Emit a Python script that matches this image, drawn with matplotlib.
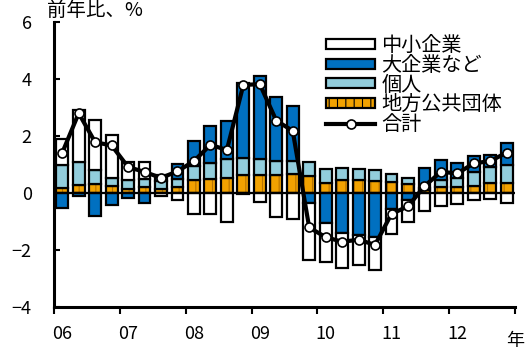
import numpy as np
import matplotlib
matplotlib.use("Agg")
import matplotlib.pyplot as plt
from matplotlib.patches import Patch
from matplotlib.lines import Line2D

plt.rcParams['font.family'] = ['Noto Sans CJK JP', 'DejaVu Sans']
plt.rcParams['hatch.linewidth'] = 0.8

# Quarterly contributions, 2006Q1 - 2012Q4 (percentage points)
years = ['06', '07', '08', '09', '10', '11', '12']
local_gov = [0.19, 0.27, 0.33, 0.23, 0.15, 0.21, 0.14, 0.21, 0.44, 0.50, 0.54, 0.62, 0.62, 0.62,
             0.65, 0.59, 0.36, 0.45, 0.45, 0.43, 0.37, 0.30, 0.12, 0.22, 0.20, 0.26, 0.36, 0.34]
individuals = [0.78, 0.82, 0.47, 0.30, 0.31, 0.29, 0.28, 0.29, 0.49, 0.55, 0.64, 0.62, 0.58, 0.49,
               0.47, 0.50, 0.48, 0.44, 0.38, 0.37, 0.31, 0.22, 0.05, 0.23, 0.31, 0.47, 0.56, 0.64]
large_firms = [-0.51, -0.12, -0.82, -0.41, -0.16, -0.35, 0.22, 0.52, 0.89, 1.29, 1.33, 2.61, 2.91, 2.25,
               1.93, -0.36, -1.06, -1.39, -1.49, -1.56, -0.57, -0.24, 0.70, 0.72, 0.55, 0.57, 0.41, 0.78]
small_firms = [0.93, 1.81, 1.77, 1.52, 0.62, 0.58, -0.12, -0.26, -0.72, -0.72, -1.01, -0.05, -0.31, -0.84,
               -0.91, -1.98, -1.36, -1.25, -1.02, -1.13, -0.86, -0.76, -0.63, -0.45, -0.37, -0.24, -0.22, -0.36]
total = [1.41, 2.80, 1.78, 1.67, 0.91, 0.74, 0.53, 0.76, 1.12, 1.69, 1.51, 3.79, 3.82, 2.54,
         2.18, -1.21, -1.55, -1.71, -1.64, -1.82, -0.73, -0.47, 0.24, 0.74, 0.69, 1.04, 1.12, 1.42]

labels = ['中小企業', '大企業など', '個人', '地方公共団体', '合計']

n = len(total)
x = np.arange(n) + 0.5

fig = plt.figure(figsize=(5.27, 3.53), dpi=100)
ax = fig.add_axes([54 / 527, 1 - 307 / 353, (515 - 54) / 527, (307 - 22) / 353])

orange = '#F2A200'
stripe = '#B87400'
dark_blue = '#0070C0'
light_blue = '#92CDDC'
bar_w = 0.72
edge_lw = 1.6

pos_base = np.zeros(n)
neg_base = np.zeros(n)
series = [(local_gov, orange), (individuals, light_blue), (large_firms, dark_blue), (small_firms, 'white')]
for vals, col in series:
    v = np.asarray(vals, dtype=float)
    bottom = np.where(v >= 0, pos_base, neg_base)
    if col == orange:
        ax.bar(x, v, bar_w, bottom=bottom, color=col, edgecolor=stripe, hatch='||',
               linewidth=0, zorder=2)
        ax.bar(x, v, bar_w, bottom=bottom, facecolor='none', edgecolor='black',
               linewidth=edge_lw, zorder=3)
    else:
        ax.bar(x, v, bar_w, bottom=bottom, color=col, edgecolor='black',
               linewidth=edge_lw, zorder=3)
    pos_base = pos_base + np.where(v >= 0, v, 0)
    neg_base = neg_base + np.where(v < 0, v, 0)

ax.axhline(0, color='black', lw=1.6, zorder=4)
ax.plot(x, total, color='black', lw=3, marker='o', markersize=6.5,
        markerfacecolor='white', markeredgecolor='black', markeredgewidth=1.2, zorder=5)

ax.set_xlim(0, n)
ax.set_ylim(-4, 6)
for s in ('top', 'right'):
    ax.spines[s].set_visible(False)
for s in ('left', 'bottom'):
    ax.spines[s].set_linewidth(2.2)

ax.set_yticks([-4, -2, 0, 2, 4, 6])
ax.set_yticklabels(['−4', '−2', '0', '2', '4', '6'])
ax.tick_params(axis='y', direction='in', length=4, width=1.5, pad=16, labelsize=13)

ax.set_xticks(np.arange(0, n + 1, 4))
ax.set_xticklabels([])
ax.tick_params(axis='x', which='major', direction='out', length=5, width=1.5)
ax.set_xticks(np.arange(0, n, 4) + 0.5, minor=True)
ax.set_xticklabels(years, minor=True)
ax.tick_params(axis='x', which='minor', length=0, pad=13, labelsize=13)

ax.text(n, -0.12, '年', transform=ax.get_xaxis_transform(), ha='center', va='center',
        fontsize=13)
fig.text(47 / 527, 1 - 10 / 353, '前年比、%', ha='left', va='center', fontsize=14)

handles = [
    Patch(facecolor='white', edgecolor='black', linewidth=edge_lw),
    Patch(facecolor=dark_blue, edgecolor='black', linewidth=edge_lw),
    Patch(facecolor=light_blue, edgecolor='black', linewidth=edge_lw),
    Patch(facecolor=orange, edgecolor='black', linewidth=edge_lw, hatch='||'),
    Line2D([], [], color='black', lw=3, marker='o', markersize=6.5,
           markerfacecolor='white', markeredgecolor='black', markeredgewidth=1.2),
]
leg = ax.legend(handles, labels, loc='upper left', bbox_to_anchor=(326 / 527, 1 - 35 / 353),
                bbox_transform=fig.transFigure, frameon=False, fontsize=14.5,
                handlelength=2.45, handleheight=0.4, handletextpad=0.3,
                labelspacing=-0.06, borderpad=0, borderaxespad=0)
leg.set_zorder(10)

fig.savefig('out.png', dpi=100)
